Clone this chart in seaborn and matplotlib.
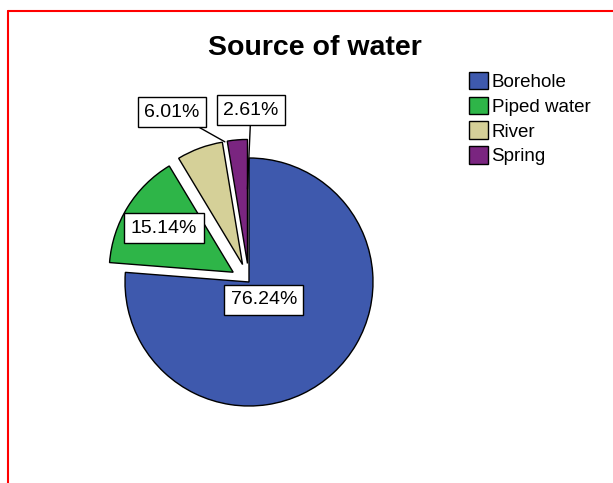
import numpy as np
import matplotlib
matplotlib.use("Agg")
import matplotlib.pyplot as plt
import seaborn as sns
from matplotlib.lines import Line2D

sns.set_style("white")
plt.rcParams['font.family'] = ['Liberation Sans', 'DejaVu Sans']
plt.rcParams['text.color'] = 'black'

# data
kaynaklar = ["Borehole", "Piped water", "River", "Spring"]
yuzdeler = [76.24, 15.14, 6.01, 2.61]
renkler = ["#3E59AD", "#2EB548", "#D5D098", "#7A2580"]
patlatma = [0, 0.15, 0.15, 0.15]

fig = plt.figure(figsize=(6.13, 4.83), dpi=100)
ax = fig.add_axes([0, 0, 1, 1])

wedges, _ = ax.pie(yuzdeler, colors=renkler, explode=patlatma, startangle=90,
                   counterclock=False, radius=1,
                   wedgeprops=dict(edgecolor="black", linewidth=1))

r = 124.0
ax.set_xlim(-249 / r, 364 / r)
ax.set_ylim(-201 / r, 282 / r)
ax.set_aspect("auto")
ax.axis("off")

kutu = dict(boxstyle="square,pad=0.33", facecolor="white", edgecolor="black", linewidth=1)
etiket_yer = [(0.12, -0.145), (-0.685, 0.435), (-0.62, 1.37), (0.016, 1.387)]

for i, (w, p) in enumerate(zip(wedges, yuzdeler)):
    metin = f"{p:.2f}%"
    tx, ty = etiket_yer[i]
    if i < 2:
        ax.text(tx, ty, metin, ha="center", va="center", fontsize=14, color="black", bbox=kutu)
    else:
        cx, cy = w.center
        if i == 2:
            ang = np.deg2rad((w.theta1 + w.theta2) / 2 - 12)
            rr = 1.0
        else:
            ang = np.deg2rad(min(w.theta1, w.theta2))
            rr = 0.6
        nokta = (cx + rr * np.cos(ang), cy + rr * np.sin(ang))
        ax.annotate(metin, xy=nokta, xytext=(tx, ty), ha="center", va="center",
                    fontsize=14, color="black", bbox=kutu,
                    arrowprops=dict(arrowstyle="-", color="black", lw=1,
                                    shrinkA=0, shrinkB=0))

fig.text(315 / 613, 1 - 48 / 483, "Source of water", ha="center", va="center",
         fontsize=20.5, fontweight="bold", color="black")

leg = ax.legend(wedges, kaynaklar, loc="upper left",
                bbox_to_anchor=(469 / 613, 1 - 72 / 483), bbox_transform=fig.transFigure,
                frameon=False, fontsize=13.5, handlelength=1.0, handleheight=1.05,
                handletextpad=0.2, labelspacing=0.3, borderpad=0, borderaxespad=0)
for t in leg.get_texts():
    t.set_color("black")

# red border of the screenshot
fig.add_artist(Line2D([8 / 613, 1], [1 - 11 / 483, 1 - 11 / 483], color="red", lw=1.5,
                      transform=fig.transFigure))
fig.add_artist(Line2D([8 / 613, 8 / 613], [0, 1 - 11 / 483], color="red", lw=1.5,
                      transform=fig.transFigure))

fig.savefig("out.png", dpi=100)
